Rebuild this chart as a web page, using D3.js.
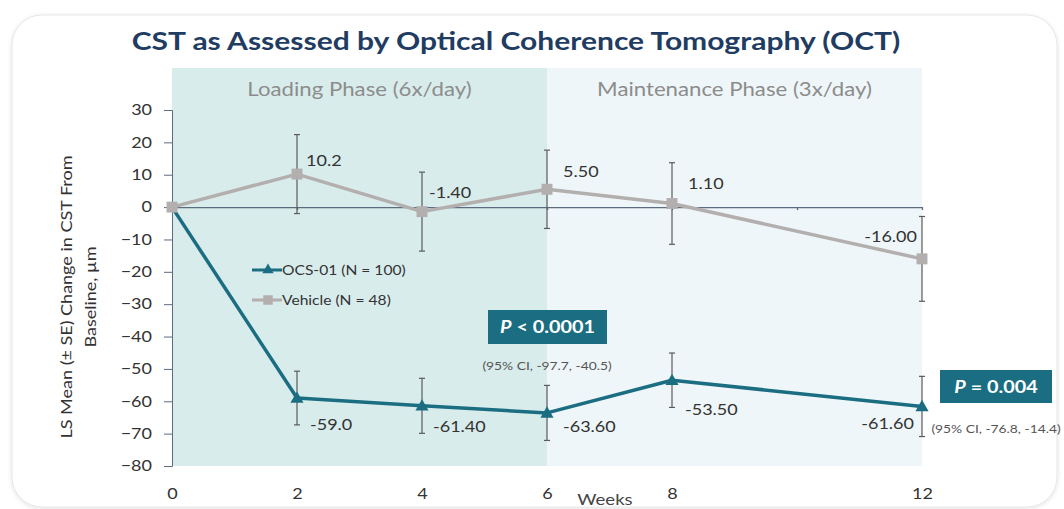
<!DOCTYPE html>
<html>
<head>
<meta charset="utf-8">
<script src="https://cdn.jsdelivr.net/npm/d3@7"></script>
<style>
  body { margin: 0; background: #fff; }
  svg { display: block; font-family: Lato, "Open Sans", sans-serif; }
</style>
</head>
<body>
<div id="chart"></div>
<script>
// data
const weeks = [0, 2, 4, 6, 8, 12];
const ocsValues = [0, -59.0, -61.4, -63.6, -53.5, -61.6];
const ocsLabels = ["", "-59.0", "-61.40", "-63.60", "-53.50", "-61.60"];
const ocsSE = [0, 8.3, 8.5, 8.5, 8.4, 9.3];
const vehValues = [0, 10.2, -1.4, 5.5, 1.1, -16.0];
const vehLabels = ["", "10.2", "-1.40", "5.50", "1.10", "-16.00"];
const vehSE = [0, 12.2, 12.2, 12.1, 12.6, 13.1];
const yTicks = [-80, -70, -60, -50, -40, -30, -20, -10, 0, 10, 20, 30];
const xTickLabels = [0, 2, 4, 6, 8, 12];
const phases = [
  { name: "Loading Phase (6x/day)", from: 0, to: 6, color: "#d9ecec" },
  { name: "Maintenance Phase (3x/day)", from: 6, to: 12, color: "#eff6f9" }
];

const W = 1064, H = 509;
const teal = "#1b6e82", grey = "#b4afaf";
// the source lettering is wider than Lato, so every text gets stretched a bit
const STRETCH = 1.2;

const svg = d3.select("#chart").append("svg")
  .attr("width", W)
  .attr("height", H);

// card with soft shadow
const defs = svg.append("defs");
const f = defs.append("filter").attr("id", "sh").attr("x", "-5%").attr("y", "-5%").attr("width", "110%").attr("height", "110%");
f.append("feDropShadow").attr("dx", 0).attr("dy", 1).attr("stdDeviation", 2).attr("flood-color", "#000").attr("flood-opacity", 0.12);

svg.append("rect")
  .attr("x", 12).attr("y", 15)
  .attr("width", 1045).attr("height", 492)
  .attr("rx", 30)
  .attr("fill", "#fff")
  .attr("stroke", "#e6e6e6")
  .attr("filter", "url(#sh)");

const x = d3.scaleLinear().domain([0, 12]).range([172, 922]);
const y = d3.scaleLinear().domain([-80, 30]).range([466, 110]);

// title
svg.append("text")
  .attr("x", 516).attr("y", 50)
  .attr("text-anchor", "middle")
  .attr("font-size", "25px")
  .attr("font-weight", "bold")
  .attr("fill", "#1f3c62")
  .text("CST as Assessed by Optical Coherence Tomography (OCT)");

// phase backgrounds
svg.selectAll("rect.phase")
  .data(phases)
  .enter()
  .append("rect")
  .attr("class", "phase")
  .attr("x", d => x(d.from))
  .attr("y", 68)
  .attr("width", d => x(d.to) - x(d.from))
  .attr("height", y(-80) - 68)
  .attr("fill", d => d.color);

svg.selectAll("text.phase")
  .data(phases)
  .enter()
  .append("text")
  .attr("class", "phase")
  .attr("x", d => (x(d.from) + x(d.to)) / 2)
  .attr("y", 96)
  .attr("text-anchor", "middle")
  .attr("font-size", "18.5px")
  .attr("fill", "#8c8c8c")
  .text(d => d.name);

// Y axis
const yAxis = svg.append("g")
  .attr("transform", `translate(${x(0)},0)`)
  .call(d3.axisLeft(y).tickValues(yTicks).tickSize(8).tickSizeOuter(4).tickPadding(12));
yAxis.selectAll("text").attr("font-size", "15px").attr("fill", "#333").attr("font-family", "Lato, sans-serif");
yAxis.selectAll("line, path").attr("stroke", "#5d6b7e");

// zero line with small ticks
const zeroAxis = svg.append("g")
  .attr("transform", `translate(0,${y(0)})`)
  .call(d3.axisBottom(x).tickValues([2, 4, 6, 8, 10, 12]).tickSize(3).tickSizeOuter(0).tickFormat(""));
zeroAxis.selectAll("line, path").attr("stroke", "#5d6b7e").attr("stroke-width", 1.3);

// bottom tick labels
const xLab = svg.append("g")
  .attr("transform", "translate(0,485)")
  .call(d3.axisBottom(x).tickValues(xTickLabels).tickSize(0).tickPadding(3));
xLab.select(".domain").remove();
xLab.selectAll("text").attr("font-size", "15px").attr("fill", "#333").attr("font-family", "Lato, sans-serif");

svg.append("text")
  .attr("x", 605).attr("y", 505)
  .attr("text-anchor", "middle")
  .attr("font-size", "15.5px")
  .attr("fill", "#444")
  .text("Weeks");

// Y title, two lines
const yTitle = ["LS Mean (\u00b1 SE) Change  in CST From", "Baseline, \u00b5m"];
yTitle.forEach((t, i) => {
  svg.append("text")
    .attr("transform", `translate(${72 + i * 24},297) rotate(-90)`)
    .attr("text-anchor", "middle")
    .attr("font-size", "15px")
    .attr("fill", "#333")
    .text(t);
});

const ocs = weeks.map((w, i) => ({ w, v: ocsValues[i], se: ocsSE[i], label: ocsLabels[i] }));
const veh = weeks.map((w, i) => ({ w, v: vehValues[i], se: vehSE[i], label: vehLabels[i] }));

function errorBars(data) {
  const gb = svg.append("g").attr("stroke", "#5a5a5a").attr("stroke-width", 1.2);
  data.filter(d => d.se > 0).forEach(d => {
    const cx = x(d.w);
    gb.append("line").attr("x1", cx).attr("x2", cx).attr("y1", y(d.v + d.se)).attr("y2", y(d.v - d.se));
    gb.append("line").attr("x1", cx - 3).attr("x2", cx + 3).attr("y1", y(d.v + d.se)).attr("y2", y(d.v + d.se));
    gb.append("line").attr("x1", cx - 3).attr("x2", cx + 3).attr("y1", y(d.v - d.se)).attr("y2", y(d.v - d.se));
  });
}

const line = d3.line().x(d => x(d.w)).y(d => y(d.v));

errorBars(veh);
errorBars(ocs);

svg.append("path").datum(veh)
  .attr("fill", "none").attr("stroke", grey).attr("stroke-width", 3.5)
  .attr("stroke-linejoin", "round")
  .attr("d", line);
svg.append("path").datum(ocs)
  .attr("fill", "none").attr("stroke", teal).attr("stroke-width", 3.5)
  .attr("stroke-linejoin", "round")
  .attr("d", line);

const sq = d3.symbol().type(d3.symbolSquare).size(120);
const tri = d3.symbol().type(d3.symbolTriangle).size(75);

svg.selectAll("path.vm").data(veh).enter().append("path")
  .attr("class", "vm")
  .attr("transform", d => `translate(${x(d.w)},${y(d.v)})`)
  .attr("d", sq).attr("fill", grey);
svg.selectAll("path.om").data(ocs.slice(1)).enter().append("path")
  .attr("class", "om")
  .attr("transform", d => `translate(${x(d.w)},${y(d.v) + 1})`)
  .attr("d", tri).attr("fill", teal);

// data labels (offsets from the point)
const vehOff = [null, [9, -8], [7, -14], [16, -12], [16, -15], [-5, -17]];
const ocsOff = [null, [13, 32], [11, 26], [16, 19], [13, 35], [-8, 23]];
function labels(data, offs) {
  data.forEach((d, i) => {
    if (!offs[i]) return;
    svg.append("text")
      .attr("x", x(d.w) + offs[i][0])
      .attr("y", y(d.v) + offs[i][1])
      .attr("text-anchor", offs[i][0] < 0 ? "end" : "start")
      .attr("font-size", "15px")
      .attr("fill", "#333")
      .text(d.label);
  });
}
labels(veh, vehOff);
labels(ocs, ocsOff);

// legend
const legendData = [
  { name: "OCS-01 (N = 100)", color: teal, type: d3.symbolTriangle, size: 55, yPos: 270 },
  { name: "Vehicle (N = 48)", color: grey, type: d3.symbolSquare, size: 90, yPos: 300 }
];
const lg = svg.append("g").attr("class", "legend");
legendData.forEach(d => {
  lg.append("line").attr("x1", 252).attr("x2", 282).attr("y1", d.yPos).attr("y2", d.yPos)
    .attr("stroke", d.color).attr("stroke-width", 3);
  lg.append("path").attr("transform", `translate(268,${d.yPos})`)
    .attr("d", d3.symbol().type(d.type).size(d.size))
    .attr("fill", d.color);
  lg.append("text").attr("x", 282).attr("y", d.yPos + 5)
    .attr("font-size", "13px").attr("fill", "#333").text(d.name);
});

// p-value boxes
const pBoxes = [
  { p: " < 0.0001", ci: "(95% CI, -97.7, -40.5)", x: 488, y: 310, w: 119, h: 34, cx: 547, cy: 370 },
  { p: " = 0.004", ci: "(95% CI, -76.8, -14.4)", x: 940, y: 370, w: 112, h: 33, cx: 996, cy: 433 }
];
pBoxes.forEach(b => {
  svg.append("rect").attr("x", b.x).attr("y", b.y).attr("width", b.w).attr("height", b.h).attr("fill", teal);
  const t = svg.append("text")
    .attr("x", b.x + b.w / 2).attr("y", b.y + b.h / 2 + 6)
    .attr("text-anchor", "middle")
    .attr("font-size", "16.5px").attr("font-weight", "bold").attr("fill", "#fff");
  t.append("tspan").attr("font-style", "italic").text("P");
  t.append("tspan").text(b.p);
  svg.append("text").attr("x", b.cx).attr("y", b.cy)
    .attr("text-anchor", "middle").attr("font-size", "11.5px").attr("fill", "#555").text(b.ci);
});

// widen all lettering
svg.selectAll("text").each(function () {
  const len = this.getComputedTextLength();
  if (len > 0) {
    d3.select(this)
      .attr("textLength", len * STRETCH)
      .attr("lengthAdjust", "spacingAndGlyphs");
  }
});
</script>
</body>
</html>
